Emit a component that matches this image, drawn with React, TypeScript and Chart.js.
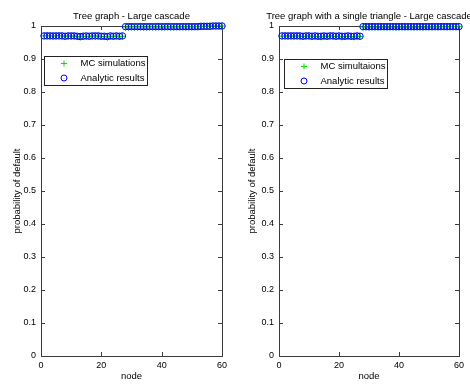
import React, { useEffect, useRef } from "react";
import { Chart, registerables } from "chart.js";

Chart.register(...registerables);

const nodes = [
  1, 2, 3, 4, 5, 6, 7, 8, 9, 10, 11, 12, 13, 14, 15, 16, 17, 18, 19, 20,
  21, 22, 23, 24, 25, 26, 27, 28, 29, 30, 31, 32, 33, 34, 35, 36, 37, 38, 39, 40,
  41, 42, 43, 44, 45, 46, 47, 48, 49, 50, 51, 52, 53, 54, 55, 56, 57, 58, 59, 60,
];

const leftMC = [
  0.970, 0.971, 0.970, 0.969, 0.970, 0.971, 0.970, 0.968, 0.970, 0.969,
  0.970, 0.968, 0.967, 0.969, 0.968, 0.968, 0.970, 0.969, 0.970, 0.968,
  0.968, 0.967, 0.969, 0.968, 0.970, 0.968, 0.969,
  0.997, 0.997, 0.998, 0.997, 0.997, 0.998, 0.997, 0.997, 0.998, 0.997,
  0.997, 0.998, 0.997, 0.997, 0.998, 0.997, 0.997, 0.998, 0.997, 0.998,
  0.997, 0.998, 0.997, 0.998, 0.998, 0.999, 0.999, 0.999, 1.000, 1.000,
  1.000, 1.000, 1.000,
];
const leftAnalytic = [
  0.970, 0.970, 0.970, 0.970, 0.970, 0.970, 0.970, 0.969, 0.970, 0.970,
  0.970, 0.969, 0.968, 0.969, 0.970, 0.969, 0.970, 0.970, 0.970, 0.969,
  0.969, 0.968, 0.970, 0.969, 0.970, 0.969, 0.970,
  0.998, 0.998, 0.998, 0.998, 0.998, 0.998, 0.998, 0.998, 0.998, 0.998,
  0.998, 0.998, 0.998, 0.998, 0.998, 0.998, 0.998, 0.998, 0.998, 0.998,
  0.998, 0.998, 0.998, 0.998, 0.998, 0.999, 0.999, 0.999, 0.999, 1.000,
  1.000, 1.000, 1.000,
];
const rightMC = [
  0.969, 0.970, 0.969, 0.970, 0.969, 0.970, 0.969, 0.968, 0.969, 0.970,
  0.968, 0.969, 0.968, 0.967, 0.969, 0.968, 0.970, 0.969, 0.968, 0.969,
  0.967, 0.968, 0.969, 0.968, 0.967, 0.969, 0.968,
  0.997, 0.997, 0.996, 0.997, 0.997, 0.996, 0.997, 0.997, 0.996, 0.997,
  0.997, 0.996, 0.997, 0.997, 0.996, 0.997, 0.997, 0.996, 0.997, 0.997,
  0.996, 0.997, 0.997, 0.997, 0.998, 0.997, 0.998, 0.998, 0.997, 0.998,
  0.998, 0.998, 0.998,
];
const rightAnalytic = [
  0.970, 0.970, 0.970, 0.970, 0.970, 0.970, 0.970, 0.969, 0.970, 0.970,
  0.969, 0.970, 0.969, 0.969, 0.970, 0.969, 0.970, 0.970, 0.969, 0.970,
  0.969, 0.969, 0.970, 0.969, 0.969, 0.970, 0.969,
  0.998, 0.998, 0.998, 0.998, 0.998, 0.998, 0.998, 0.998, 0.998, 0.998,
  0.998, 0.998, 0.998, 0.998, 0.998, 0.998, 0.998, 0.998, 0.998, 0.998,
  0.998, 0.998, 0.998, 0.998, 0.998, 0.998, 0.998, 0.998, 0.998, 0.998,
  0.998, 0.998, 0.998,
];

const FONT = "'Liberation Sans', Arial, Helvetica, sans-serif";
const FRAME = "#3c3c3c";
const GREEN = "#00dd00";
const BLUE = "#0000ff";

type PanelCfg = {
  title: string;
  mcLabel: string;
  mc: number[];
  analytic: number[];
  yAxisWidth: number;
  padRight: number;
  legendDx: number;
  legendDy: number;
};

const panels: PanelCfg[] = [
  {
    title: "Tree graph - Large cascade",
    mcLabel: "MC simulations",
    mc: leftMC,
    analytic: leftAnalytic,
    yAxisWidth: 41,
    padRight: 13,
    legendDx: 3,
    legendDy: 30,
  },
  {
    title: "Tree graph with a single triangle - Large cascade",
    mcLabel: "MC simultaions",
    mc: rightMC,
    analytic: rightAnalytic,
    yAxisWidth: 44,
    padRight: 11,
    legendDx: 5,
    legendDy: 33,
  },
];

function makeFramePlugin(p: PanelCfg) {
  return {
    id: "matlabFrame",
    beforeDatasetsDraw(chart: any) {
      const { ctx, chartArea: a, scales } = chart;
      ctx.save();
      ctx.strokeStyle = FRAME;
      ctx.lineWidth = 1;
      const tl = 4;
      ctx.beginPath();
      for (const t of scales.x.ticks) {
        const px = Math.round(scales.x.getPixelForValue(t.value)) + 0.5;
        ctx.moveTo(px, a.bottom);
        ctx.lineTo(px, a.bottom - tl);
        ctx.moveTo(px, a.top);
        ctx.lineTo(px, a.top + tl);
      }
      for (const t of scales.y.ticks) {
        const py = Math.round(scales.y.getPixelForValue(t.value)) + 0.5;
        ctx.moveTo(a.left, py);
        ctx.lineTo(a.left + tl, py);
        ctx.moveTo(a.right, py);
        ctx.lineTo(a.right - tl, py);
      }
      ctx.stroke();
      ctx.strokeRect(
        Math.round(a.left) + 0.5,
        Math.round(a.top) + 0.5,
        Math.round(a.right - a.left),
        Math.round(a.bottom - a.top)
      );
      ctx.restore();
    },
    afterDatasetsDraw(chart: any) {
      const { ctx, chartArea: a } = chart;
      const lx = Math.round(a.left + p.legendDx) + 0.5;
      const ly = Math.round(a.top + p.legendDy) + 0.5;
      const w = 103;
      const h = 29;
      ctx.save();
      ctx.fillStyle = "#ffffff";
      ctx.fillRect(lx, ly, w, h);
      ctx.strokeStyle = "#222";
      ctx.lineWidth = 1;
      ctx.strokeRect(lx, ly, w, h);
      const ds = chart.data.datasets;
      const rows = [ly + 7, ly + 21.5];
      ds.forEach((d: any, i: number) => {
        const cy = rows[i];
        const cx = lx + 19.5;
        ctx.strokeStyle = d.borderColor;
        ctx.lineWidth = 1;
        ctx.beginPath();
        if (d.pointStyle === "cross") {
          ctx.moveTo(cx - 3, cy);
          ctx.lineTo(cx + 3, cy);
          ctx.moveTo(cx, cy - 3);
          ctx.lineTo(cx, cy + 3);
        } else {
          ctx.arc(cx, cy, 3, 0, Math.PI * 2);
        }
        ctx.stroke();
        ctx.fillStyle = "#000";
        ctx.font = `9.5px ${FONT}`;
        ctx.textBaseline = "middle";
        ctx.textAlign = "left";
        ctx.fillText(d.label, lx + 36, cy);
      });
      ctx.restore();
    },
    afterDraw(chart: any) {
      const { ctx, chartArea: a } = chart;
      ctx.save();
      ctx.fillStyle = "#000";
      ctx.font = `9.5px ${FONT}`;
      ctx.textAlign = "center";
      ctx.textBaseline = "middle";
      ctx.fillText(p.title, (a.left + a.right) / 2, 16);
      ctx.restore();
    },
  };
}

function Panel({ p }: { p: PanelCfg }) {
  const ref = useRef<HTMLCanvasElement>(null);
  useEffect(() => {
    if (!ref.current) return;
    const tickFont = { family: FONT, size: 9 };
    const titleFont = { family: FONT, size: 9.5 };
    const chart = new Chart(ref.current, {
      type: "scatter",
      data: {
        datasets: [
          {
            label: p.mcLabel,
            data: nodes.map((x, i) => ({ x, y: p.mc[i] })),
            pointStyle: "cross",
            pointRadius: 3.5,
            borderColor: GREEN,
            backgroundColor: GREEN,
            borderWidth: 1,
            order: 1,
            clip: false,
          } as any,
          {
            label: "Analytic results",
            data: nodes.map((x, i) => ({ x, y: p.analytic[i] })),
            pointStyle: "circle",
            pointRadius: 3.2,
            borderColor: BLUE,
            backgroundColor: "rgba(0,0,0,0)",
            borderWidth: 1,
            order: 0,
            clip: false,
          } as any,
        ],
      },
      options: {
        responsive: false,
        animation: false,
        events: [],
        layout: { padding: { left: 0, top: 26, right: p.padRight, bottom: 0 } },
        plugins: {
          legend: { display: false },
          tooltip: { enabled: false },
          title: { display: false },
        },
        scales: {
          x: {
            type: "linear",
            min: 0,
            max: 60,
            ticks: { stepSize: 20, padding: 4, color: "#000", font: tickFont, maxRotation: 0 },
            grid: { display: false, drawTicks: false },
            border: { display: false },
            title: {
              display: true,
              text: "node",
              color: "#000",
              font: titleFont,
              padding: { top: 0, bottom: 3 },
            },
            afterFit(s: any) {
              s.height = 29;
            },
          },
          y: {
            type: "linear",
            min: 0,
            max: 1,
            ticks: {
              stepSize: 0.1,
              padding: 5,
              color: "#000",
              font: tickFont,
              callback: (v: number) => String(Math.round(v * 10) / 10),
            },
            grid: { display: false, drawTicks: false },
            border: { display: false },
            title: {
              display: true,
              text: "probability of default",
              color: "#000",
              font: titleFont,
              padding: { top: 12, bottom: 0 },
            },
            afterFit(s: any) {
              s.width = p.yAxisWidth;
            },
          },
        },
      } as any,
      plugins: [makeFramePlugin(p)],
    });
    return () => chart.destroy();
  }, [p]);
  return <canvas ref={ref} width={235} height={385} style={{ display: "block" }} />;
}

export default function App() {
  return (
    <div
      style={{
        position: "fixed",
        left: 0,
        top: 0,
        width: 470,
        height: 385,
        background: "#fff",
        display: "flex",
      }}
    >
      {panels.map((p, i) => (
        <Panel key={i} p={p} />
      ))}
    </div>
  );
}
